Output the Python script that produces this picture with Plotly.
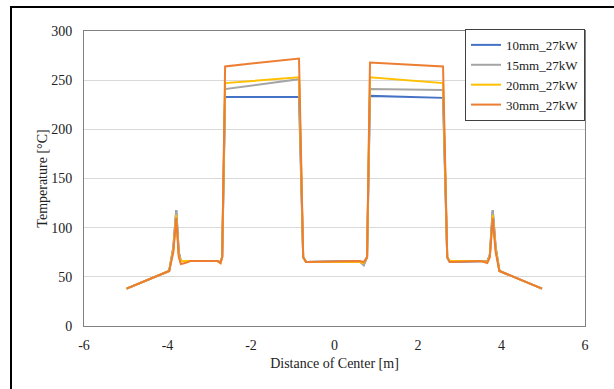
import plotly.graph_objects as go

xs = [-4.98, -3.96, -3.86, -3.79, -3.73, -3.68, -3.58, -3.45, -2.8, -2.73, -2.69, -2.62,
      -0.85, -0.75, -0.68, 0.6, 0.7, 0.78, 0.85, 2.6, 2.7, 2.76, 3.5, 3.66, 3.72, 3.79,
      3.86, 3.95, 4.97]

t_10mm = [38, 56, 80, 118, 75, 66, 66, 66, 66, 65, 70, 233, 233, 70, 65, 66, 62, 70,
          234, 232, 70, 65, 66, 66, 72, 118, 80, 56, 38]
t_15mm = [38, 56, 80, 118, 75, 66, 66, 66, 66, 65, 70, 241, 251, 70, 65, 66, 62, 70,
          241, 240, 70, 65, 66, 66, 72, 118, 80, 56, 38]
t_20mm = [38, 56, 78, 113, 72, 66, 66, 66, 66, 64, 70, 247, 253, 70, 65, 65, 64, 70,
          253, 247, 70, 66, 66, 65, 71, 113, 78, 56, 38]
t_30mm = [38, 56, 75, 110, 70, 63, 64, 66, 66, 64, 70, 264, 272, 70, 65, 66, 65, 70,
          268, 264, 70, 65, 66, 64, 70, 110, 75, 56, 38]

names = ["10mm_27kW", "15mm_27kW", "20mm_27kW", "30mm_27kW"]
series = [t_10mm, t_15mm, t_20mm, t_30mm]
colors = ["#4472C4", "#A5A5A5", "#FFC000", "#ED7D31"]

x_tickvals = [-6, -4, -2, 0, 2, 4, 6]
x_ticktext = ["-6", "-4", "-2", "0", "2", "4", "6"]

font_family = "Liberation Serif"

fig = go.Figure()
for name, ys, c in zip(names, series, colors):
    fig.add_trace(go.Scatter(x=xs, y=ys, mode="lines", name=name,
                             line=dict(color=c, width=2)))

fig.update_layout(
    width=614, height=389,
    margin=dict(l=84, r=29, t=31, b=63),
    paper_bgcolor="white", plot_bgcolor="white",
    font=dict(family=font_family, size=14, color="#222222"),
    showlegend=True,
    legend=dict(x=1, y=1.007, xanchor="right", yanchor="top",
                bgcolor="white", bordercolor="#404040", borderwidth=1,
                font=dict(family=font_family, size=13, color="#222222"),
                itemwidth=30, tracegroupgap=0),
    xaxis=dict(range=[-6, 6], tickvals=x_tickvals, ticktext=x_ticktext,
               showgrid=False, zeroline=False, automargin=False,
               showline=True, linecolor="#808080", linewidth=1, mirror=True,
               ticks="", ticklabelstandoff=6,
               title=dict(text="Distance of Center [m]", standoff=6,
                          font=dict(family=font_family, size=14))),
    yaxis=dict(range=[0, 300], dtick=50, showgrid=True, gridcolor="#D9D9D9",
               zeroline=False, showline=True, linecolor="#808080", linewidth=1,
               mirror=True, ticks="", automargin=False, ticklabelstandoff=8,
               title=dict(text="Temperature [°C]", standoff=0,
                          font=dict(family=font_family, size=14))),
    shapes=[dict(type="rect", xref="paper", yref="paper",
                 x0=-0.1457, x1=1.1, y0=-0.3, y1=1.0814,
                 line=dict(color="black", width=2), fillcolor="rgba(0,0,0,0)",
                 layer="above")],
)

fig.write_html("out.html", config={"displayModeBar": False},
               post_script="document.body.style.margin='0px';document.body.style.overflow='hidden';")
